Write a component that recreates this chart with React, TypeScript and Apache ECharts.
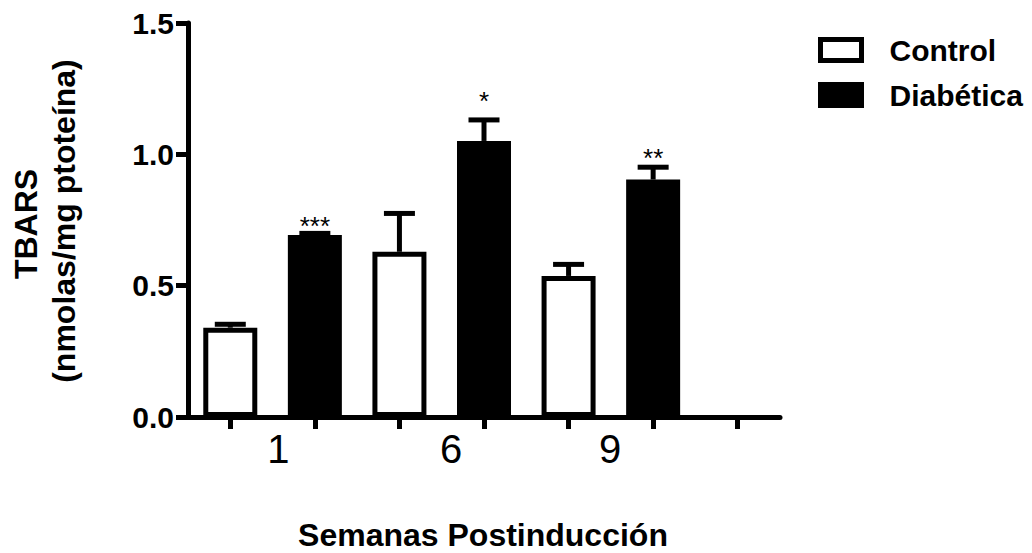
import React, { useEffect, useRef } from "react";
import * as echarts from "echarts";

// ---- data ----
const weeks = ["1", "6", "9"];
const controlMean = [0.34, 0.629, 0.537];
const controlSem = [0.013, 0.146, 0.044];
const diabMean = [0.693, 1.051, 0.904];
const diabSem = [0.006, 0.08, 0.047];
const stars = ["***", "*", "**"];
const starPos = [0.747, 1.221, 1.006];
const weekLabelPos = [1.07, 3.11, 4.99];
const yTicks = [0, 0.5, 1.0, 1.5];

const FONT = "'Liberation Sans', Arial, Helvetica, sans-serif";

export default function App() {
  const ref = useRef<HTMLDivElement>(null);

  useEffect(() => {
    if (!ref.current) return;
    const chart = echarts.init(ref.current, undefined, { renderer: "svg" });

    // 7 slots: control/diabetic per week plus one empty slot at the end
    const slots: string[] = [];
    const ctrlData: any[] = [];
    const diabData: any[] = [];
    const errData: any[] = [];
    const errStars: string[] = [];
    const errStarPos: number[] = [];
    weeks.forEach((w, i) => {
      slots.push(w + " Control", w + " Diabética");
      ctrlData.push(controlMean[i], "-");
      diabData.push("-", diabMean[i]);
      errData.push([2 * i, controlMean[i], controlSem[i]]);
      errStars.push("");
      errStarPos.push(0);
      errData.push([2 * i + 1, diabMean[i], diabSem[i]]);
      errStars.push(stars[i]);
      errStarPos.push(starPos[i]);
    });
    slots.push("");
    ctrlData.push("-");
    diabData.push("-");

    const option: any = {
      animation: false,
      backgroundColor: "#fff",
      textStyle: { fontFamily: FONT },
      grid: { left: 188, right: 252, top: 23, bottom: 136, containLabel: false },
      legend: {
        orient: "vertical",
        left: 813,
        top: 30,
        itemWidth: 41,
        itemHeight: 21,
        itemGap: 15,
        icon: "rect",
        data: ["Control", "Diabética"],
        itemStyle: { borderWidth: 5, borderColor: "#000" },
        textStyle: {
          fontSize: 30,
          fontWeight: "bold",
          color: "#000",
          fontFamily: FONT,
          padding: [0, 0, 0, 23],
        },
      },
      xAxis: [
        {
          type: "category",
          data: slots,
          position: "bottom",
          boundaryGap: true,
          axisLine: { lineStyle: { color: "#000", width: 5 } },
          axisTick: {
            show: true,
            alignWithLabel: true,
            interval: 0,
            length: 12,
            lineStyle: { color: "#000", width: 5 },
          },
          axisLabel: { show: true, interval: 0, formatter: () => "", fontSize: 10 },
          splitLine: { show: false },
        },
        {
          type: "value",
          min: 0,
          max: 7,
          position: "bottom",
          axisLine: { show: false },
          axisTick: { show: false },
          splitLine: { show: false },
          axisLabel: {
            customValues: weekLabelPos,
            formatter: (v: number) => {
              let best = 0;
              weekLabelPos.forEach((p, i) => {
                if (Math.abs(p - v) < Math.abs(weekLabelPos[best] - v)) best = i;
              });
              return weeks[best];
            },
            fontSize: 40,
            color: "#000",
            fontFamily: FONT,
            margin: 12,
          },
        },
      ],
      yAxis: {
        type: "value",
        min: 0,
        max: 1.5,
        interval: 0.5,
        axisLine: { show: true, lineStyle: { color: "#000", width: 5 } },
        axisTick: { show: true, length: 12, lineStyle: { color: "#000", width: 5 } },
        splitLine: { show: false },
        axisLabel: {
          customValues: yTicks,
          formatter: (v: number) => v.toFixed(1),
          fontSize: 30,
          fontWeight: "bold",
          color: "#000",
          fontFamily: FONT,
          margin: 14,
        },
      },
      series: [
        {
          name: "Control",
          type: "bar",
          data: ctrlData,
          barWidth: 54,
          barGap: "-100%",
          itemStyle: { color: "#fff", borderColor: "#000", borderWidth: 5 },
          z: 2,
        },
        {
          name: "Diabética",
          type: "bar",
          data: diabData,
          barWidth: 54,
          barGap: "-100%",
          itemStyle: { color: "#000", borderColor: "#000", borderWidth: 5 },
          z: 2,
        },
        {
          type: "custom",
          data: errData,
          z: 3,
          silent: true,
          renderItem: (params: any, api: any) => {
            const idx = api.value(0);
            const mean = api.value(1);
            const sem = api.value(2);
            const base = api.coord([idx, mean]);
            const top = api.coord([idx, mean + sem]);
            const children: any[] = [
              {
                type: "line",
                shape: { x1: base[0], y1: base[1], x2: base[0], y2: top[1] },
                style: { stroke: "#000", lineWidth: 5 },
              },
              {
                type: "line",
                shape: { x1: base[0] - 15.5, y1: top[1], x2: base[0] + 15.5, y2: top[1] },
                style: { stroke: "#000", lineWidth: 5 },
              },
            ];
            const s = errStars[params.dataIndex];
            if (s) {
              const sp = api.coord([idx, errStarPos[params.dataIndex]]);
              children.push({
                type: "text",
                x: base[0],
                y: sp[1] + 5,
                style: {
                  text: s,
                  fontSize: 26,
                  fontFamily: FONT,
                  fill: "#000",
                  align: "center",
                  verticalAlign: "middle",
                },
              });
            }
            return { type: "group", children };
          },
        },
      ],
      graphic: [
        {
          type: "text",
          x: 26,
          y: 224,
          rotation: Math.PI / 2,
          style: {
            text: "TBARS",
            fontSize: 32,
            fontWeight: "bold",
            fontFamily: FONT,
            fill: "#000",
            align: "center",
            verticalAlign: "middle",
          },
        },
        {
          type: "text",
          x: 64,
          y: 221,
          rotation: Math.PI / 2,
          style: {
            text: "(nmolas/mg ptoteína)",
            fontSize: 32,
            fontWeight: "bold",
            fontFamily: FONT,
            fill: "#000",
            align: "center",
            verticalAlign: "middle",
          },
        },
        {
          type: "text",
          x: 483,
          y: 535,
          style: {
            text: "Semanas Postinducción",
            fontSize: 32,
            fontWeight: "bold",
            fontFamily: FONT,
            fill: "#000",
            align: "center",
            verticalAlign: "middle",
          },
        },
      ],
    };

    chart.setOption(option);
    return () => chart.dispose();
  }, []);

  return (
    <div
      ref={ref}
      style={{ position: "absolute", left: 0, top: 0, width: 1032, height: 553 }}
    />
  );
}
